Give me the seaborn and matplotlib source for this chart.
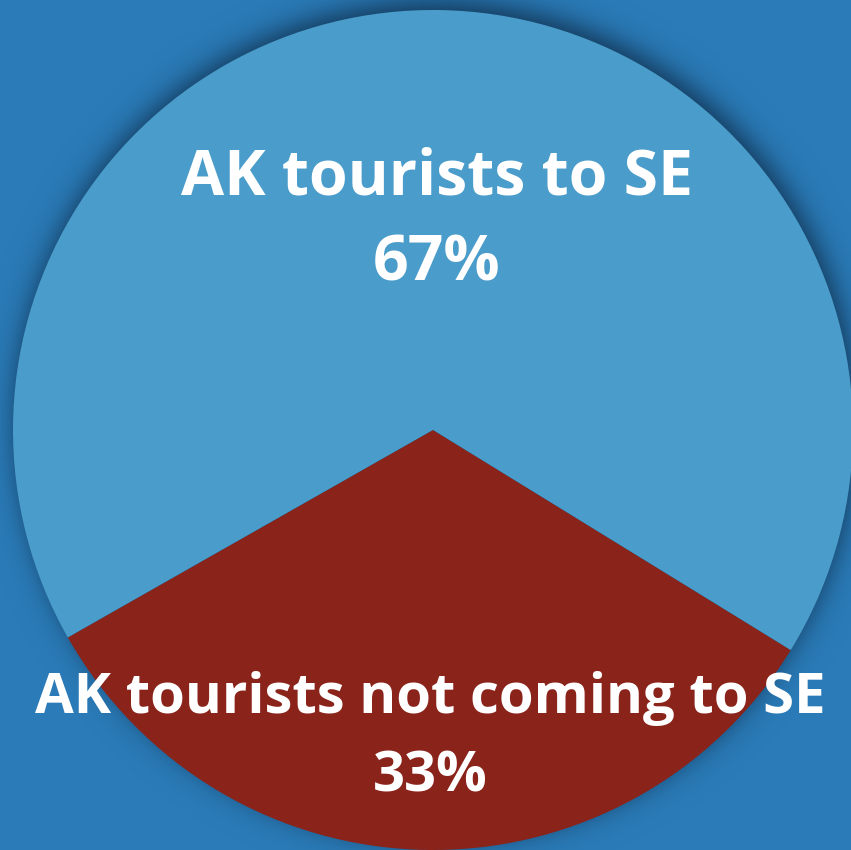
import numpy as np
import matplotlib
matplotlib.use("Agg")
import matplotlib.pyplot as plt
import seaborn as sns

categories = ["AK tourists not coming to SE", "AK tourists to SE"]
shares = [33, 67]
pct_labels = ["33%", "67%"]
colors = ["#8a231a", "#4a9cca"]
bg_color = "#2a7bb8"

sns.set_style("white")
plt.rcParams['font.family'] = ['Open Sans', 'DejaVu Sans']

W, H = 851, 850
fig = plt.figure(figsize=(W / 100, H / 100), dpi=100)
fig.patch.set_facecolor(bg_color)
ax = fig.add_axes([0, 0, 1, 1])
ax.set_facecolor(bg_color)

cx, cy, r = 433, H - 430, 420

# soft drop shadow behind the pie
yy, xx = np.mgrid[0:H, 0:W]
yy = H - yy - 0.5
xx = xx + 0.5
scx, scy = cx + 3, cy + 8
d = np.sqrt((xx - scx) ** 2 + (yy - scy) ** 2)
t = (d - r) / 14.0
shade = 0.5 * (1 - np.tanh(t * 0.85))
rgba = np.zeros((H, W, 4))
rgba[..., 0] = 0.05
rgba[..., 1] = 0.15
rgba[..., 2] = 0.25
rgba[..., 3] = 0.8 * shade
ax.imshow(rgba, extent=(0, W, 0, H), origin="upper", zorder=0, interpolation="bilinear")

start = 209.6
wedges, _ = ax.pie(shares, colors=colors, startangle=start, counterclock=True,
                   center=(cx, cy), radius=r, frame=True,
                   wedgeprops=dict(linewidth=0, antialiased=True))
for w in wedges:
    w.set_zorder(2)
ax.set_xlim(0, W)
ax.set_ylim(0, H)
ax.set_aspect("equal")
ax.set_axis_off()

kw = dict(ha="center", va="center", color="white", fontweight="bold", zorder=3)
ax.text(437, H - 178, categories[1], fontsize=45, **kw)
ax.text(437, H - 264, pct_labels[1], fontsize=45, **kw)
ax.text(430, H - 698, categories[0], fontsize=40.5, **kw)
ax.text(430, H - 777, pct_labels[0], fontsize=40.5, **kw)

fig.savefig("out.png", dpi=100, facecolor=bg_color)
